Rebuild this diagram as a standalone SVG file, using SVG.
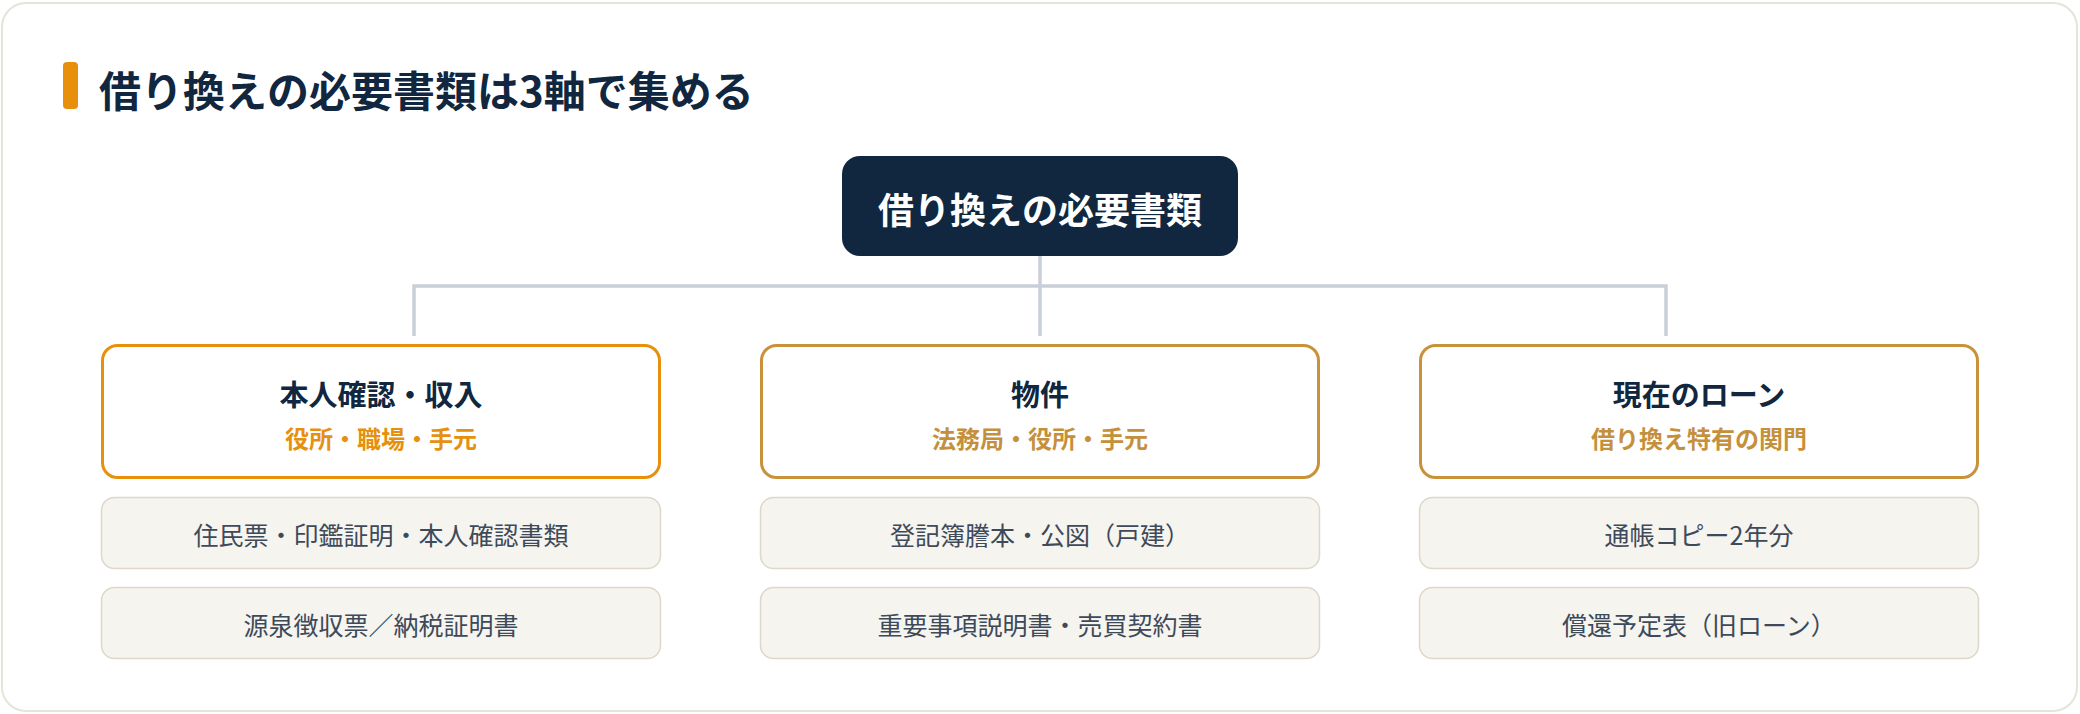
<svg xmlns="http://www.w3.org/2000/svg" width="2080" height="714" viewBox="0 0 2080 714">
<style>
text{font-family:"Noto Sans CJK JP","Noto Sans",sans-serif;text-anchor:middle;dominant-baseline:central}
.head{fill:#fff;stroke-width:3}
.h1{stroke:#e8900c}
.h2{stroke:#c9923a}
.ttl{font-size:29px;font-weight:700;fill:#10273f}
.sub{font-size:24px;font-weight:700}
.s1{fill:#e5900f}
.s2{fill:#c5903c}
.item{fill:#f5f4ef;stroke:#ddd8c9;stroke-width:1.5}
.itxt{font-size:25px;fill:#3e4a5a}
.conn{fill:none;stroke:#c9cfd8;stroke-width:3.5}
</style>
<rect x="0" y="0" width="2080" height="714" fill="#ffffff"/>
<rect id="frame" x="2" y="3" width="2075" height="708" rx="24" fill="#ffffff" stroke="#e6e3d8" stroke-width="2"/>
<g id="heading">
<rect x="63" y="62" width="15" height="47" rx="4" fill="#e8900c"/>
<text x="99" y="88" style="text-anchor:start;font-size:42px;font-weight:700;fill:#10273f">借り換えの必要書類は3軸で集める</text>
</g>
<g id="connectors">
<path class="conn" d="M1040 256 V286 M414 336 V286 H1666 V336 M1040 286 V336"/>
</g>
<g id="root">
<rect x="842" y="156" width="396" height="100" rx="18" fill="#10273f"/>
<text x="1040" y="208" style="font-size:36px;font-weight:700;fill:#ffffff">借り換えの必要書類</text>
</g>
<g id="card1">
<rect class="head h1" x="102.5" y="345.5" width="557" height="132" rx="15"/>
<text class="ttl" x="381" y="393">本人確認・収入</text>
<text class="sub s1" x="381" y="437">役所・職場・手元</text>
</g>
<g id="card1-item1">
<rect class="item" x="101.5" y="497.5" width="559" height="71" rx="13"/>
<text class="itxt" x="381" y="534">住民票・印鑑証明・本人確認書類</text>
</g>
<g id="card1-item2">
<rect class="item" x="101.5" y="587.5" width="559" height="71" rx="13"/>
<text class="itxt" x="381" y="624">源泉徴収票／納税証明書</text>
</g>
<g id="card2">
<rect class="head h2" x="761.5" y="345.5" width="557" height="132" rx="15"/>
<text class="ttl" x="1040" y="393">物件</text>
<text class="sub s2" x="1040" y="437">法務局・役所・手元</text>
</g>
<g id="card2-item1">
<rect class="item" x="760.5" y="497.5" width="559" height="71" rx="13"/>
<text class="itxt" x="1040" y="534">登記簿謄本・公図（戸建）</text>
</g>
<g id="card2-item2">
<rect class="item" x="760.5" y="587.5" width="559" height="71" rx="13"/>
<text class="itxt" x="1040" y="624">重要事項説明書・売買契約書</text>
</g>
<g id="card3">
<rect class="head h2" x="1420.5" y="345.5" width="557" height="132" rx="15"/>
<text class="ttl" x="1699" y="393">現在のローン</text>
<text class="sub s2" x="1699" y="437">借り換え特有の関門</text>
</g>
<g id="card3-item1">
<rect class="item" x="1419.5" y="497.5" width="559" height="71" rx="13"/>
<text class="itxt" x="1699" y="534">通帳コピー2年分</text>
</g>
<g id="card3-item2">
<rect class="item" x="1419.5" y="587.5" width="559" height="71" rx="13"/>
<text class="itxt" x="1699" y="624">償還予定表（旧ローン）</text>
</g>
</svg>
